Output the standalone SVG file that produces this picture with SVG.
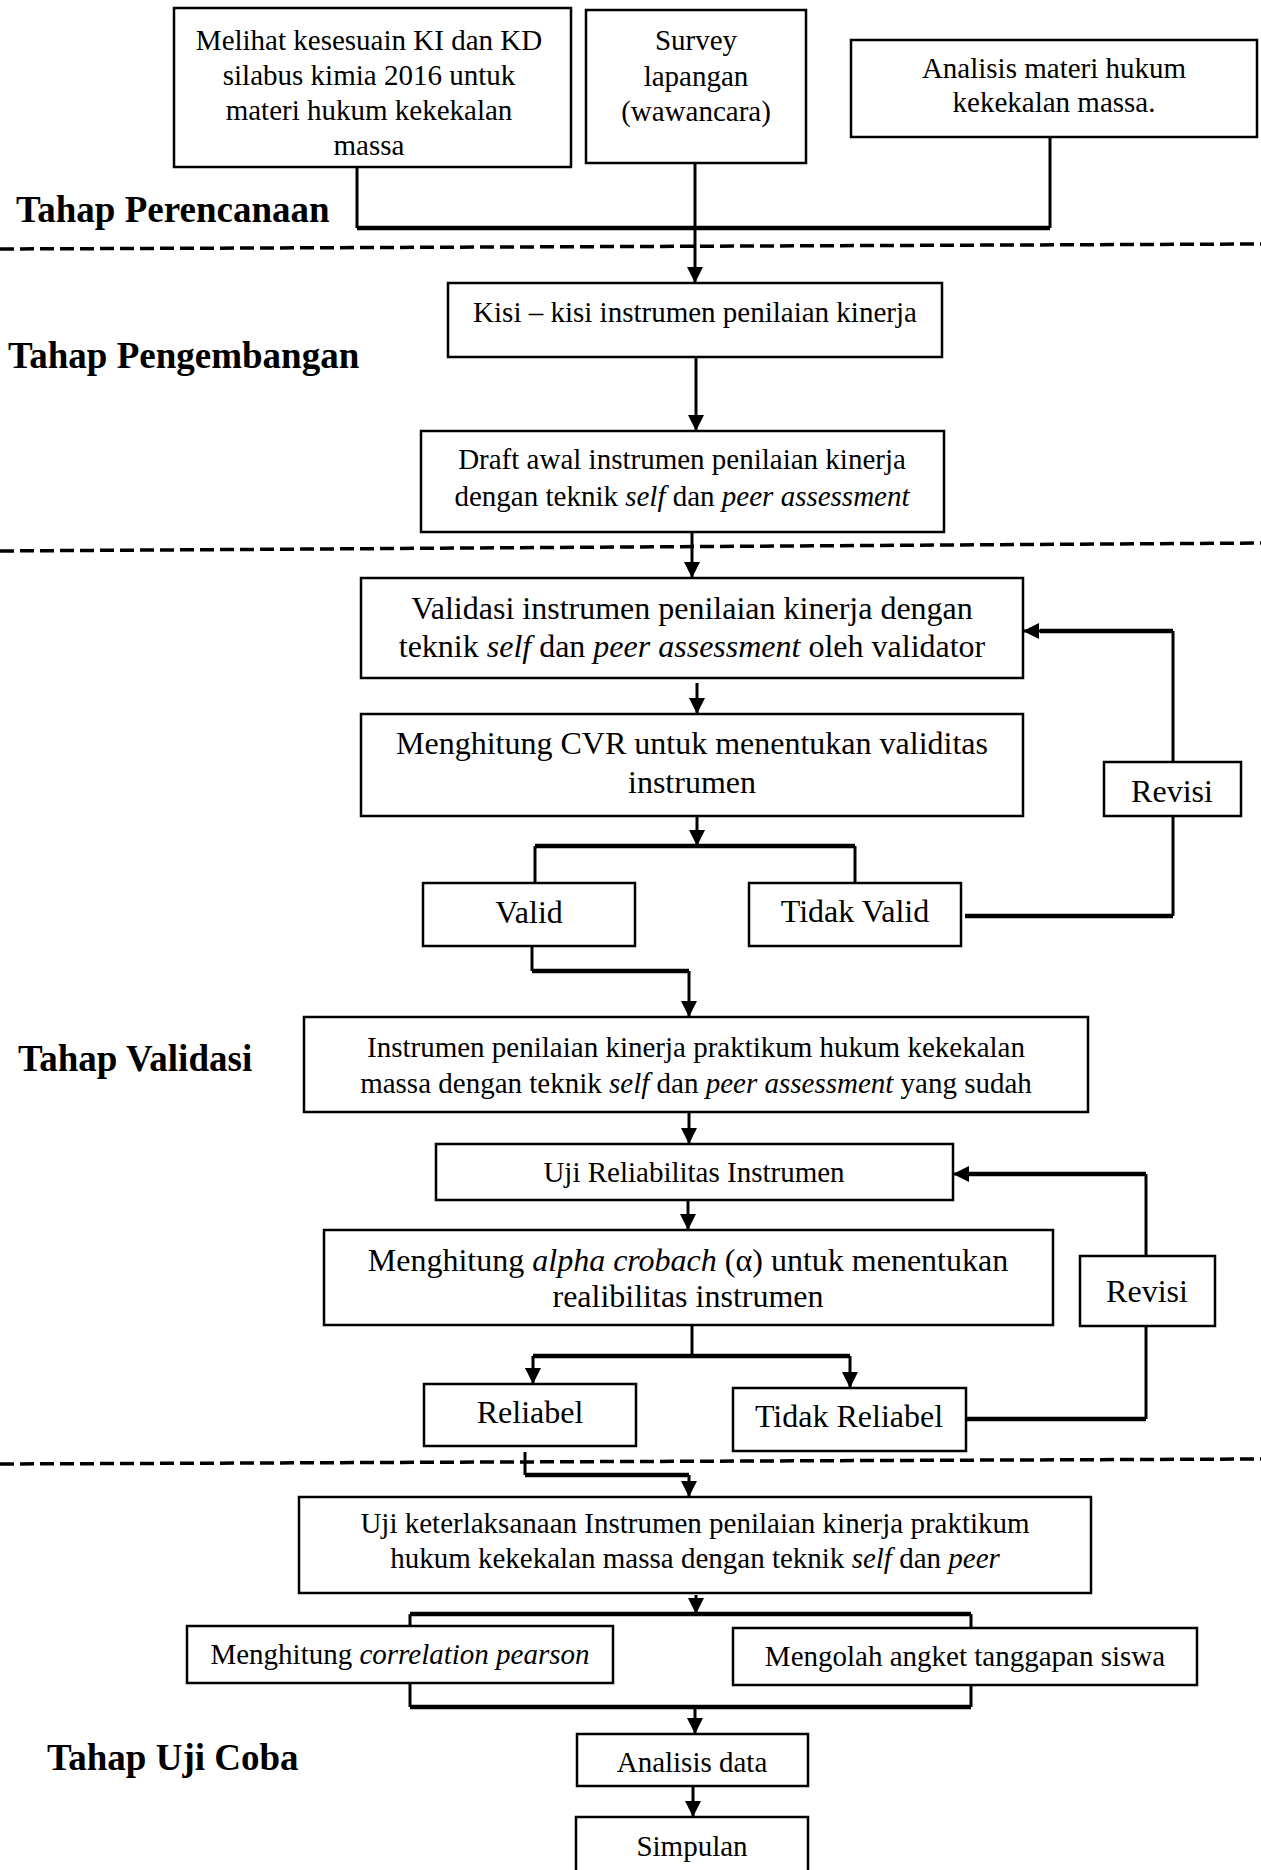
<svg xmlns="http://www.w3.org/2000/svg" width="1261" height="1870" viewBox="0 0 1261 1870">
<defs>
<style>
.box{fill:#fff;stroke:#000;stroke-width:2.5}
.t{font-family:"Liberation Serif","Times New Roman",serif;font-size:29px;text-anchor:middle;fill:#000}
.t32{font-size:32px}
.lbl{font-family:"Liberation Serif","Times New Roman",serif;font-size:37px;font-weight:bold;fill:#000}
.ln{stroke:#000;stroke-width:3;fill:none}
.bus{stroke:#000;stroke-width:4.5;fill:none}
.dash{stroke:#000;stroke-width:3.5;stroke-dasharray:14 6;fill:none}
.i{font-style:italic}
</style>
<marker id="ah" markerUnits="userSpaceOnUse" markerWidth="16" markerHeight="16" viewBox="0 0 16 16" refX="16" refY="8" orient="auto">
<path d="M0,0 L16,8 L0,16 z" fill="#000"/>
</marker>
</defs>
<rect width="1261" height="1870" fill="#fff"/>

<g id="stage-labels">
<text class="lbl" x="16" y="222">Tahap Perencanaan</text>
<text class="lbl" x="8" y="368">Tahap Pengembangan</text>
<text class="lbl" x="18" y="1071">Tahap Validasi</text>
<text class="lbl" x="47" y="1770">Tahap Uji Coba</text>
</g>

<g id="dividers">
<line class="dash" x1="0" y1="249" x2="1261" y2="244"/>
<line class="dash" x1="0" y1="551" x2="1261" y2="543"/>
<line class="dash" x1="0" y1="1464" x2="1261" y2="1459"/>
</g>

<g id="connectors">
<path class="ln" d="M357,167 V228"/>
<path class="ln" d="M695,163 V228"/>
<path class="ln" d="M1050,137 V228"/>
<path class="bus" d="M357,228 H1050"/>
<path class="ln" d="M695,228 V283" marker-end="url(#ah)"/>
<path class="ln" d="M696,357 V431" marker-end="url(#ah)"/>
<path class="ln" d="M692,532 V578" marker-end="url(#ah)"/>
<path class="ln" d="M697,683 V714" marker-end="url(#ah)"/>
<path class="ln" d="M697,816 V846" marker-end="url(#ah)"/>
<path class="bus" d="M535,846 H855"/>
<path class="ln" d="M535,846 V883"/>
<path class="ln" d="M855,846 V883"/>
<path class="bus" d="M965,916 H1173"/>
<path class="ln" d="M1173,916 V816"/>
<path class="ln" d="M1173,762 V631"/>
<path class="bus" d="M1173,631 H1040"/>
<path class="ln" d="M1045,631 H1023" marker-end="url(#ah)"/>
<path class="ln" d="M532,946 V971"/>
<path class="bus" d="M532,971 H689"/>
<path class="ln" d="M689,971 V1017" marker-end="url(#ah)"/>
<path class="ln" d="M689,1112 V1144" marker-end="url(#ah)"/>
<path class="ln" d="M688,1200 V1230" marker-end="url(#ah)"/>
<path class="bus" d="M1146,1174 H968"/>
<path class="ln" d="M972,1174 H953" marker-end="url(#ah)"/>
<path class="ln" d="M1146,1174 V1256"/>
<path class="ln" d="M1146,1326 V1419"/>
<path class="bus" d="M1146,1419 H966"/>
<path class="ln" d="M692,1325 V1356"/>
<path class="bus" d="M533,1356 H850"/>
<path class="ln" d="M533,1356 V1384" marker-end="url(#ah)"/>
<path class="ln" d="M850,1356 V1388" marker-end="url(#ah)"/>
<path class="ln" d="M525,1452 V1475"/>
<path class="bus" d="M525,1475 H689"/>
<path class="ln" d="M689,1475 V1497" marker-end="url(#ah)"/>
<path class="ln" d="M696,1595 V1614" marker-end="url(#ah)"/>
<path class="bus" d="M410,1614 H971"/>
<path class="ln" d="M410,1614 V1626"/>
<path class="ln" d="M971,1614 V1628"/>
<path class="ln" d="M410,1683 V1707"/>
<path class="ln" d="M971,1685 V1707"/>
<path class="bus" d="M410,1707 H971"/>
<path class="ln" d="M695,1707 V1734" marker-end="url(#ah)"/>
<path class="ln" d="M693,1786 V1817" marker-end="url(#ah)"/>
</g>

<g id="n-kikd">
<rect class="box" x="174" y="8" width="397" height="159"/>
<text class="t" x="369" y="50">Melihat kesesuain KI dan KD</text>
<text class="t" x="369" y="85">silabus kimia 2016 untuk</text>
<text class="t" x="369" y="120">materi hukum kekekalan</text>
<text class="t" x="369" y="155">massa</text>
</g>
<g id="n-survey">
<rect class="box" x="586" y="10" width="220" height="153"/>
<text class="t" x="696" y="50">Survey</text>
<text class="t" x="696" y="86">lapangan</text>
<text class="t" x="696" y="121">(wawancara)</text>
</g>
<g id="n-analisis-materi">
<rect class="box" x="851" y="40" width="406" height="97"/>
<text class="t" x="1054" y="78">Analisis materi hukum</text>
<text class="t" x="1054" y="112">kekekalan massa.</text>
</g>
<g id="n-kisi">
<rect class="box" x="448" y="283" width="494" height="74"/>
<text class="t" x="695" y="322">Kisi – kisi instrumen penilaian kinerja</text>
</g>
<g id="n-draft">
<rect class="box" x="421" y="431" width="523" height="101"/>
<text class="t" x="682" y="469">Draft awal instrumen penilaian kinerja</text>
<text class="t" x="682" y="506">dengan teknik <tspan class="i">self</tspan> dan <tspan class="i">peer assessment</tspan></text>
</g>
<g id="n-validasi">
<rect class="box" x="361" y="578" width="662" height="100"/>
<text class="t t32" x="692" y="619">Validasi instrumen penilaian kinerja dengan</text>
<text class="t t32" x="692" y="657">teknik <tspan class="i">self</tspan> dan <tspan class="i">peer assessment</tspan> oleh validator</text>
</g>
<g id="n-cvr">
<rect class="box" x="361" y="714" width="662" height="102"/>
<text class="t t32" x="692" y="754">Menghitung CVR untuk menentukan validitas</text>
<text class="t t32" x="692" y="793">instrumen</text>
</g>
<g id="n-valid">
<rect class="box" x="423" y="883" width="212" height="63"/>
<text class="t t32" x="529" y="923">Valid</text>
</g>
<g id="n-tidak-valid">
<rect class="box" x="749" y="883" width="212" height="63"/>
<text class="t t32" x="855" y="922">Tidak Valid</text>
</g>
<g id="n-revisi1">
<rect class="box" x="1104" y="762" width="137" height="54"/>
<text class="t t32" x="1172" y="802">Revisi</text>
</g>
<g id="n-instrumen">
<rect class="box" x="304" y="1017" width="784" height="95"/>
<text class="t" x="696" y="1057">Instrumen penilaian kinerja praktikum hukum kekekalan</text>
<text class="t" x="696" y="1093">massa dengan teknik <tspan class="i">self</tspan> dan <tspan class="i">peer assessment</tspan> yang sudah</text>
</g>
<g id="n-uji-reliabilitas">
<rect class="box" x="436" y="1144" width="517" height="56"/>
<text class="t" x="694" y="1182">Uji Reliabilitas Instrumen</text>
</g>
<g id="n-alpha">
<rect class="box" x="324" y="1230" width="729" height="95"/>
<text class="t t32" x="688" y="1271">Menghitung <tspan class="i">alpha crobach</tspan> (α) untuk menentukan</text>
<text class="t t32" x="688" y="1307">realibilitas instrumen</text>
</g>
<g id="n-revisi2">
<rect class="box" x="1080" y="1256" width="135" height="70"/>
<text class="t t32" x="1147" y="1302">Revisi</text>
</g>
<g id="n-reliabel">
<rect class="box" x="424" y="1384" width="212" height="62"/>
<text class="t t32" x="530" y="1423">Reliabel</text>
</g>
<g id="n-tidak-reliabel">
<rect class="box" x="733" y="1388" width="233" height="63"/>
<text class="t t32" x="849" y="1427">Tidak Reliabel</text>
</g>
<g id="n-uji-keterlaksanaan">
<rect class="box" x="299" y="1497" width="792" height="96"/>
<text class="t" x="695" y="1533">Uji keterlaksanaan Instrumen penilaian kinerja praktikum</text>
<text class="t" x="695" y="1568">hukum kekekalan massa dengan teknik <tspan class="i">self</tspan> dan <tspan class="i">peer</tspan></text>
</g>
<g id="n-correlation">
<rect class="box" x="187" y="1626" width="426" height="57"/>
<text class="t" x="400" y="1664">Menghitung <tspan class="i">correlation pearson</tspan></text>
</g>
<g id="n-angket">
<rect class="box" x="733" y="1628" width="464" height="57"/>
<text class="t" x="965" y="1666">Mengolah angket tanggapan siswa</text>
</g>
<g id="n-analisis-data">
<rect class="box" x="577" y="1734" width="231" height="52"/>
<text class="t" x="692" y="1772">Analisis data</text>
</g>
<g id="n-simpulan">
<rect class="box" x="576" y="1817" width="232" height="60"/>
<text class="t" x="692" y="1856">Simpulan</text>
</g>
</svg>
